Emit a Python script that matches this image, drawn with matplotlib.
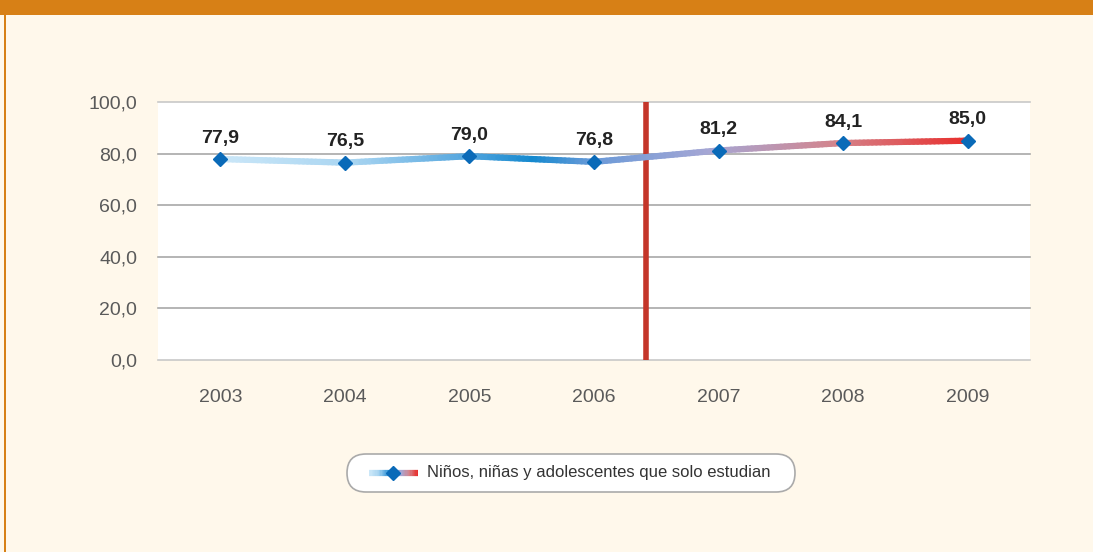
import numpy as np
import matplotlib
matplotlib.use("Agg")
import matplotlib.pyplot as plt
from matplotlib.collections import LineCollection
from matplotlib.colors import LinearSegmentedColormap
from matplotlib.patches import FancyBboxPatch, Rectangle
from matplotlib.lines import Line2D

years = ["2003", "2004", "2005", "2006", "2007", "2008", "2009"]
values = [77.9, 76.5, 79.0, 76.8, 81.2, 84.1, 85.0]
labels = ["77,9", "76,5", "79,0", "76,8", "81,2", "84,1", "85,0"]
yticks = [0, 20, 40, 60, 80, 100]
legend_text = "Niños, niñas y adolescentes que solo estudian"
break_pos = 3.42  # vertical red line between 2006 and 2007

plt.rcParams['font.family'] = ['Liberation Sans', 'DejaVu Sans']

bg = "#FFF8EB"
orange = "#D78016"
grad = LinearSegmentedColormap.from_list("grad", [
    (0.0, "#CBE7F8"), (0.18, "#A9D5F1"), (0.34, "#4FA3DD"), (0.42, "#1489CF"),
    (0.5, "#6A9AD8"), (0.66, "#A6A6D4"), (0.83, "#D4848C"), (1.0, "#E8302E")])

fig = plt.figure(figsize=(10.93, 5.52), dpi=100, facecolor=bg)
W, H = 1093, 552

# header bar and left border
fig.patches.append(Rectangle((0, 1 - 15 / H), 1, 15 / H, transform=fig.transFigure,
                             facecolor=orange, edgecolor="none", zorder=0))
fig.patches.append(Rectangle((4 / W, 0), 2.2 / W, 1 - 15 / H, transform=fig.transFigure,
                             facecolor=orange, edgecolor="none", zorder=0))

ax = fig.add_axes([158 / W, 1 - 360 / H, 872 / W, 258 / H])
ax.set_facecolor("white")
x = np.arange(len(years))
ax.set_xlim(-0.5, len(years) - 0.5)
ax.set_ylim(0, 100)

for y in yticks:
    ax.axhline(y, color="#A8A8A8" if 0 < y < 100 else "#C8C8C8", lw=1.2,
               zorder=1, clip_on=False)

ax.axvline(break_pos, color="#C4362A", lw=4, zorder=2)

# gradient line
pts = []
for i in range(len(x) - 1):
    t = np.linspace(0, 1, 30, endpoint=False)
    pts.append(np.column_stack([x[i] + t * (x[i + 1] - x[i]),
                                values[i] + t * (values[i + 1] - values[i])]))
pts.append(np.array([[x[-1], values[-1]]]))
pts = np.vstack(pts)
segs = np.stack([pts[:-1], pts[1:]], axis=1)
lc = LineCollection(segs, cmap=grad, linewidths=4.5, capstyle="round", zorder=3)
lc.set_array((pts[:-1, 0] + pts[1:, 0]) / 2 / x[-1])
lc.set_clim(0, 1)
ax.add_collection(lc)
ax.plot(x, values, ls="none", marker="D", ms=7.5, color="#0A6AB8", zorder=4)

for xi, v, lab in zip(x, values, labels):
    ax.annotate(lab, (xi, v), xytext=(0, 9), textcoords="offset points",
                ha="center", va="bottom", fontsize=14, fontweight="bold", color="#222222")

for s in ax.spines.values():
    s.set_visible(False)
ax.set_xticks(x)
ax.set_xticklabels(years)
ax.set_yticks(yticks)
ax.set_yticklabels([f"{v},0" for v in yticks])
ax.tick_params(axis="both", length=0, labelsize=14, labelcolor="#5A5A5A")
ax.tick_params(axis="y", pad=15)
ax.tick_params(axis="x", pad=21)

# legend box (inch coordinates so the corners stay round)
fig.patches.append(FancyBboxPatch((3.47, (H - 492) / 100), 4.48, 0.38,
                                  boxstyle="round,pad=0,rounding_size=0.19",
                                  transform=fig.dpi_scale_trans, facecolor="white",
                                  edgecolor="#AAAAAA", lw=1.2, zorder=1))
ly = 1 - 473 / H
lx = np.linspace(369, 418, 40) / W
lsegs = np.stack([np.column_stack([lx[:-1], np.full(39, ly)]),
                  np.column_stack([lx[1:], np.full(39, ly)])], axis=1)
llc = LineCollection(lsegs, cmap=grad, linewidths=4.5, transform=fig.transFigure, zorder=2)
llc.set_array(np.linspace(0, 1, 39))
fig.add_artist(llc)
fig.add_artist(Line2D([393 / W], [ly], marker="D", ms=7.5, color="#0A6AB8",
                      transform=fig.transFigure, zorder=3))
fig.text(427 / W, ly, legend_text, ha="left", va="center", fontsize=12, color="#333333")

fig.savefig("out.png", dpi=100, facecolor=bg)
